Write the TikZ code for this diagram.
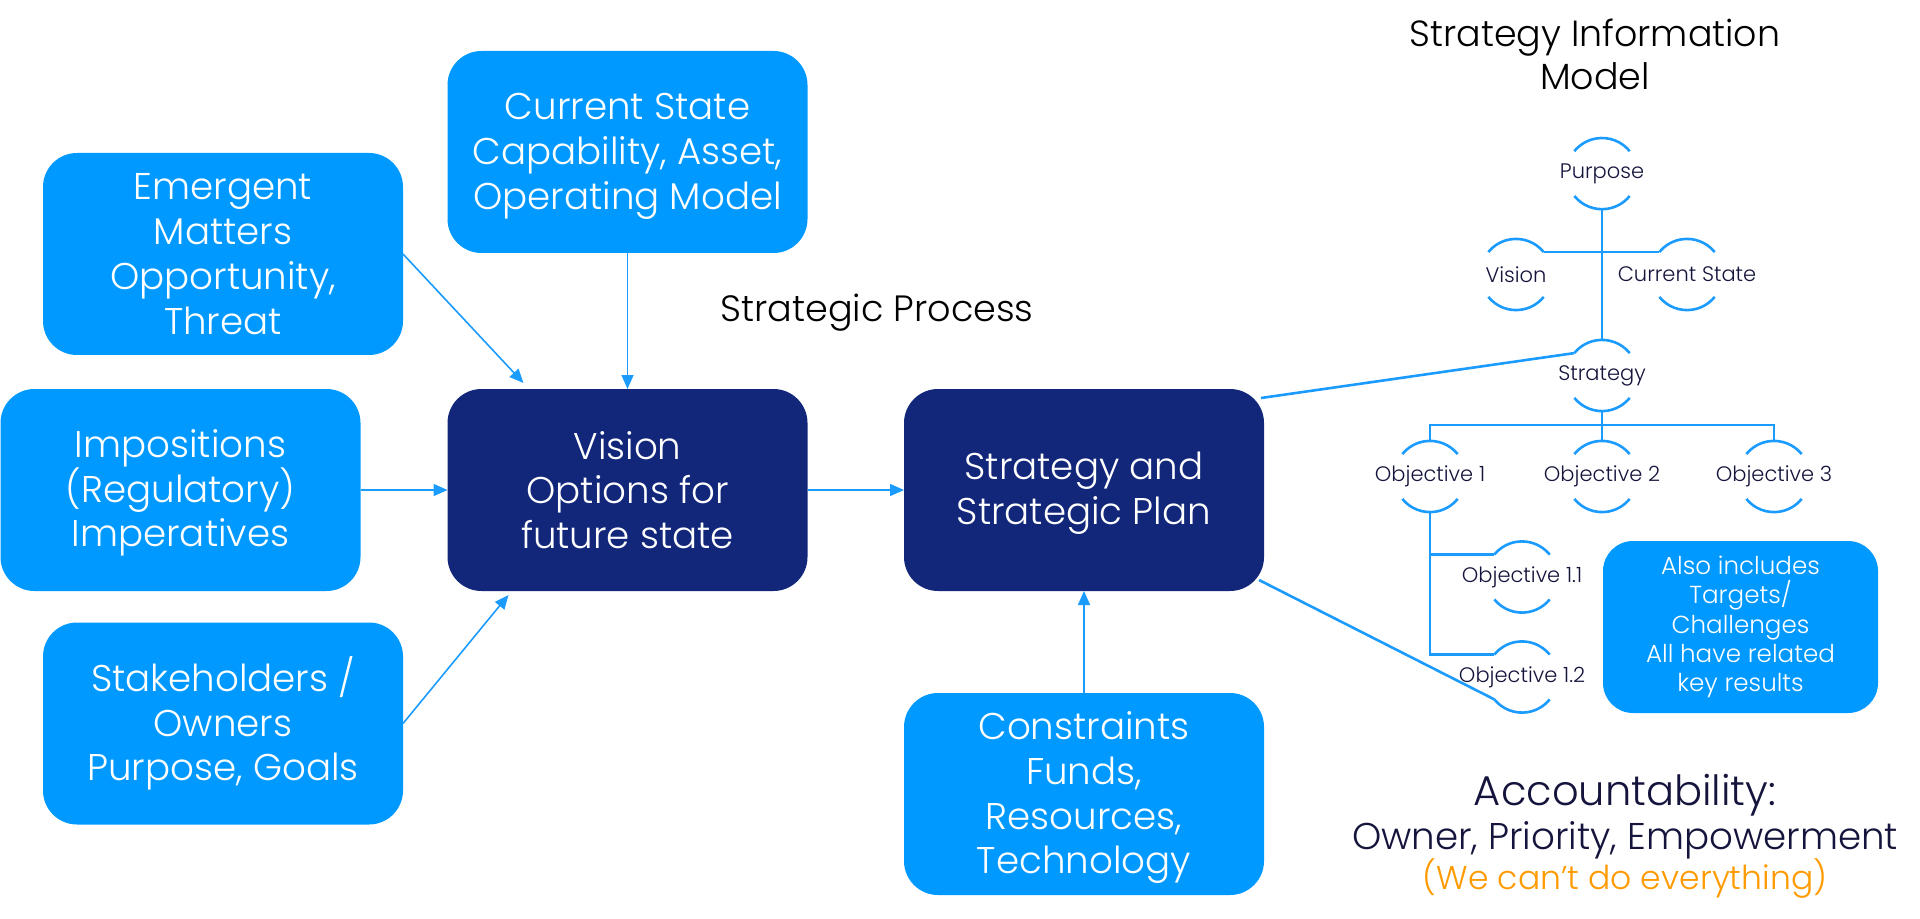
\documentclass[tikz,border=0pt]{standalone}
\usepackage{fontspec}
\setmainfont{Poppins}[UprightFont={* Light}]
\usetikzlibrary{arrows.meta,calc}
\definecolor{lblue}{HTML}{0099FF}
\definecolor{dblue}{HTML}{12277A}
\definecolor{lineblue}{HTML}{1C9BFF}
\definecolor{navy}{HTML}{14143C}
\definecolor{orng}{HTML}{FF9A00}
\begin{document}
\begin{tikzpicture}[x=0.5pt,y=-0.5pt,
  boxbase/.style={rounded corners=17pt, inner sep=0pt, outer sep=0pt,
    minimum width=180pt, minimum height=101pt},
  lbox/.style={boxbase, fill=lblue},
  dbox/.style={boxbase, fill=dblue},
  btext/.style={text=white, align=center, inner sep=0pt, font=\fontsize{18.6}{22.4}\selectfont},
  arr/.style={lineblue, line width=0.8pt, -{Triangle[length=7pt,width=6pt]}},
  tline/.style={lineblue, line width=1.3pt},
  tnode/.style={circle, minimum size=35.6pt, inner sep=0pt, outer sep=0pt},
  tlabel/.style={text=navy, font=\fontsize{10.5}{12}\selectfont, inner sep=0pt}]
\useasboundingbox (0,0) rectangle (1920,919);

% boxes
\node[lbox] (cur) at (627.5,152) {};
\node[btext] (curt) at ([yshift=-2.2pt]cur.center) {Current State\\Capability, Asset,\\Operating Model};
\node[lbox] (emg) at (223,254) {};
\node[btext] (emgt) at (emg.center) {Emergent\\Matters\\Opportunity,\\Threat};
\node[lbox] (imp) at (180.5,490) {};
\node[btext] (impt) at ([yshift=-1.5pt]imp.center) {Impositions\\(Regulatory)\\Imperatives};
\node[lbox] (stk) at (223,723.5) {};
\node[btext] (stkt) at (stk.center) {Stakeholders /\\Owners\\Purpose, Goals};
\node[dbox] (vis) at (627.5,490) {};
\node[btext] (vist) at (vis.center) {Vision\\Options for\\future state};
\node[dbox] (stp) at (1084,490) {};
\node[btext] (stpt) at ([yshift=-1.5pt]stp.center) {Strategy and\\Strategic Plan};
\node[lbox] (con) at (1084,794) {};
\node[btext] (cont) at ([yshift=-1.8pt]con.center) {Constraints\\Funds,\\Resources,\\Technology};
\node[lbox, minimum width=137.5pt, minimum height=86pt, rounded corners=15pt] (inc) at (1740.5,627) {};
\node[btext, font=\fontsize{12.3}{14.7}\selectfont] (inct) at (inc.center)
  {Also includes\\Targets/\\Challenges\\All have related\\key results};

% arrows
\draw[arr] (cur.south) -- (vis.north);
\draw[arr] (emg.east) -- ([xshift=38pt,yshift=3pt]vis.north west);
\draw[arr] (imp.east) -- (vis.west);
\draw[arr] (stk.east) -- ([xshift=30.5pt,yshift=-2pt]vis.south west);
\draw[arr] (vis.east) -- (stp.west);
\draw[arr] (con.north) -- (stp.south);

% texts
\node[font=\fontsize{18.3}{22}\selectfont] (sp) at (877,313) {Strategic Process};
\node[align=center, font=\fontsize{18.2}{21.5}\selectfont] (sim) at (1595,54) {Strategy Information\\Model};

% tree nodes
\foreach \n/\x/\y/\t in {pur/1602/173.6/Purpose, vsn/1516/274.5/Vision, cst/1687/274.5/Current State,
  str/1602/375.5/Strategy, o1/1430/476.5/Objective 1, o2/1602/476.5/Objective 2, o3/1774/476.5/Objective 3,
  o11/1522/577/Objective 1.1, o12/1522/677/Objective 1.2}{
  \node[tnode] (\n) at (\x,\y) {};
  \node[tlabel] at (\n) {\t};
  \draw[tline] (\n.39) arc[start angle=39, end angle=141, radius=17.8pt];
  \draw[tline] (\n.219) arc[start angle=219, end angle=321, radius=17.8pt];
}
\coordinate (hb) at (1602,425);
\draw[tline] (pur.south) -- (str.north);
\draw[tline] (vsn.39) -- (cst.141);
\draw[tline] (str.south) -- (o2.north);
\draw[tline] (o1.north) |- (hb) -| (o3.north);
\draw[tline] (o11.141) -| (o1.south);
\draw[tline] (o12.141) -| (o1.south);
\draw[tline] ([xshift=-1.5pt,yshift=-4.5pt]stp.north east) -- (str.141);
\draw[tline] ([xshift=-2.5pt,yshift=5.5pt]stp.south east) -- (o12.219);

% accountability
\node[text=navy, font=\fontsize{20.8}{24}\selectfont] (acc) at (1625,795) {Accountability:};
\node[text=navy, font=\fontsize{18.6}{23}\selectfont] (own) at (1625,840) {Owner, Priority, Empowerment};
\node[text=orng, font=\fontsize{16.5}{20}\selectfont] (wcd) at (1625,879) {(We can’t do everything)};
\end{tikzpicture}
\end{document}
